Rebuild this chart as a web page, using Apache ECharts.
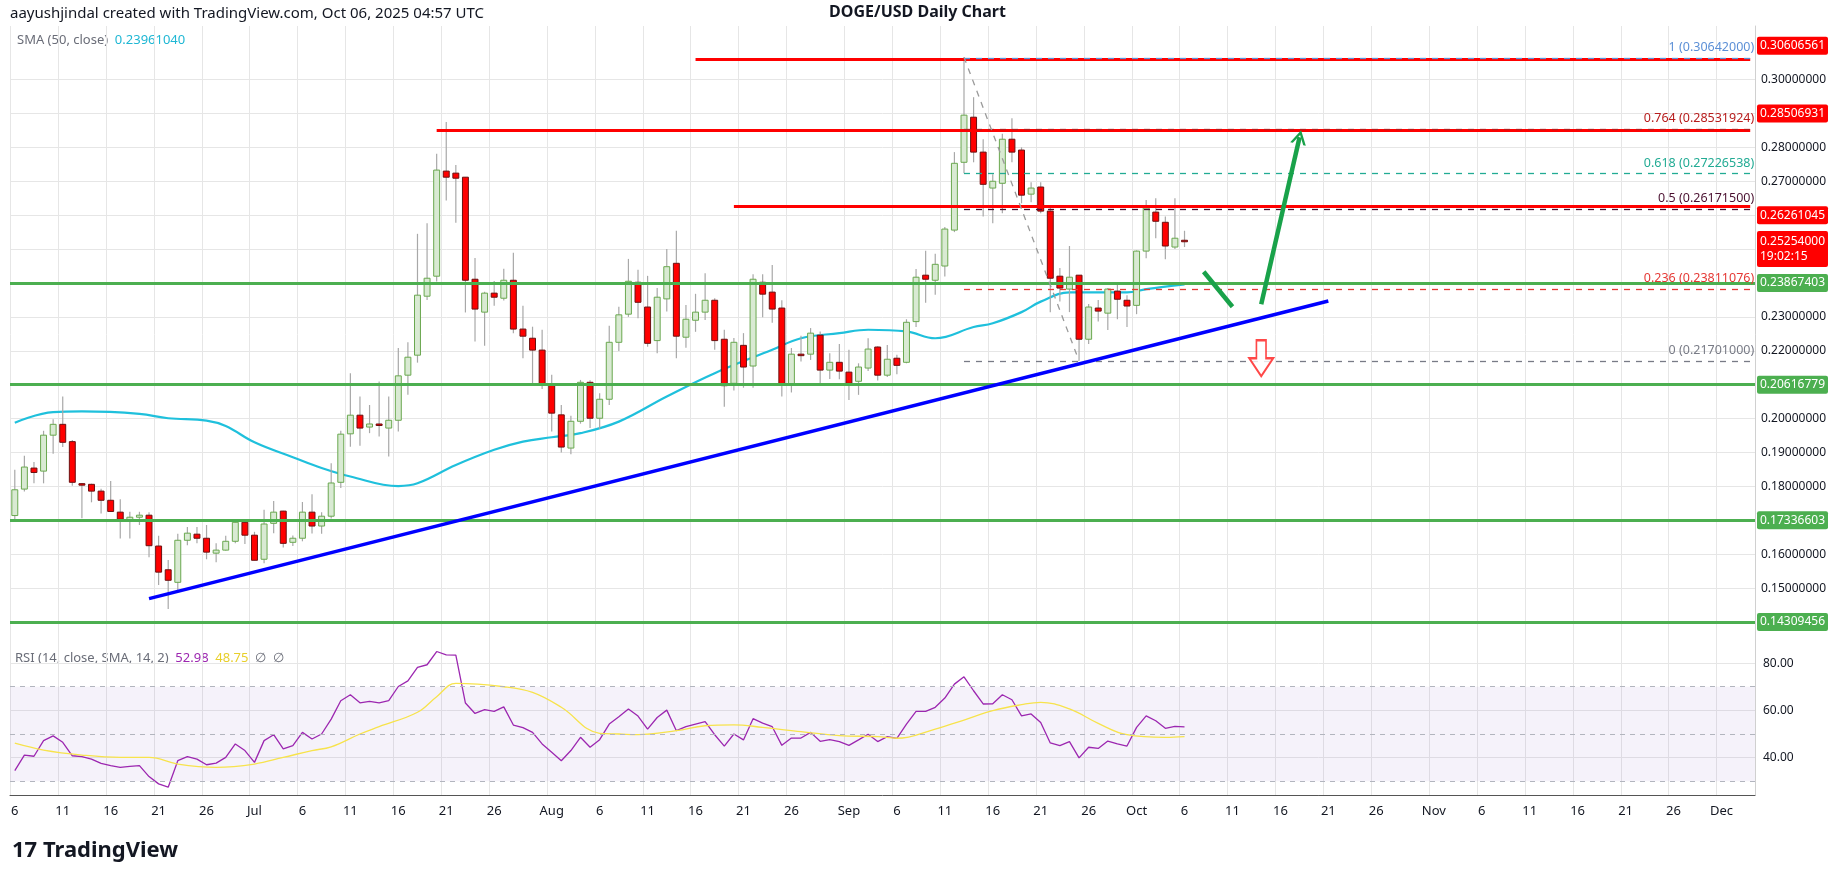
<!DOCTYPE html>
<html><head><meta charset="utf-8">
<script src="https://cdn.jsdelivr.net/npm/echarts@6/dist/echarts.min.js"></script>
<style>html,body{margin:0;padding:0;background:#fff}#c{width:1835px;height:883px}</style>
</head><body><div id="c"></div>
<script>
// ---- data ----
const openV=[.1714,.1792,.1854,.1845,.1951,.1983,.1932,.1808,.1806,.1786,.1759,.1724,.1697,.1709,.1715,.1624,.1554,.1517,.1641,.1659,.1647,.1603,.1612,.1638,.1694,.1656,.1585,.1691,.1727,.1635,.1647,.1724,.1683,.1712,.1812,.1955,.2010,.1975,.1984,.1972,.1995,.2128,.2187,.2361,.2420,.2730,.2724,.2712,.2411,.2314,.2370,.2355,.2408,.2264,.2237,.2202,.2100,.2011,.1913,.1992,.2107,.2001,.2057,.2225,.2308,.2402,.2329,.2230,.2353,.2458,.2240,.2290,.2314,.2349,.2234,.2104,.2216,.2155,.2402,.2373,.2326,.2101,.2190,.2190,.2246,.2143,.2166,.2137,.2110,.2149,.2211,.2128,.2178,.2166,.2286,.2423,.2408,.2450,.2556,.2756,.2889,.2786,.2680,.2694,.2824,.2792,.2662,.2683,.2612,.2420,.2382,.2423,.2234,.2326,.2311,.2376,.2349,.2334,.2494,.2609,.2579,.2506,.2526];
const highV=[.1849,.1890,.1872,.1964,.1998,.2065,.1937,.1810,.1808,.1793,.1816,.1762,.1725,.1725,.1724,.1654,.1583,.1660,.1680,.1680,.1686,.1632,.1654,.1703,.1702,.1666,.1731,.1757,.1728,.1655,.1754,.1777,.1724,.1868,.1964,.2134,.2065,.2040,.2109,.2065,.2208,.2225,.2545,.2576,.2781,.2875,.2748,.2712,.2474,.2374,.2406,.2442,.2489,.2333,.2271,.2262,.2129,.2040,.2008,.2114,.2113,.2075,.2274,.2330,.2471,.2439,.2421,.2385,.2500,.2554,.2335,.2368,.2429,.2355,.2262,.2238,.2252,.2426,.2426,.2453,.2349,.2208,.2244,.2267,.2257,.2193,.2220,.2203,.2163,.2237,.2213,.2217,.2188,.2293,.2441,.2495,.2486,.2565,.2786,.3066,.2948,.2824,.2721,.2840,.2886,.2800,.2697,.2697,.2625,.2444,.2509,.2423,.2338,.2350,.2385,.2396,.2364,.2496,.2645,.2650,.2596,.2650,.2554];
const lowV=[.1699,.1785,.1809,.1809,.1896,.1916,.1802,.1706,.1753,.1720,.1726,.1646,.1646,.1686,.1591,.1509,.1438,.1494,.1626,.1632,.1585,.1576,.1610,.1632,.1630,.1582,.1573,.1662,.1620,.1624,.1638,.1661,.1660,.1705,.1795,.1917,.1920,.1957,.1947,.1888,.1962,.2070,.2165,.2350,.2404,.2643,.2578,.2313,.2227,.2215,.2333,.2348,.2252,.2178,.2098,.2087,.1962,.1900,.1895,.1985,.1972,.1970,.2040,.2199,.2300,.2296,.2212,.2193,.2316,.2178,.2209,.2256,.2291,.2203,.2035,.2083,.2091,.2091,.2299,.2283,.2065,.2077,.2168,.2173,.2105,.2117,.2116,.2055,.2070,.2140,.2112,.2123,.2131,.2163,.2270,.2342,.2365,.2419,.2550,.2724,.2756,.2596,.2576,.2606,.2756,.2635,.2638,.2606,.2314,.2345,.2314,.2173,.2220,.2286,.2261,.2293,.2270,.2308,.2473,.2532,.2470,.2500,.2506];
const closeV=[.1790,.1857,.1841,.1951,.1983,.1930,.1812,.1806,.1786,.1759,.1726,.1703,.1709,.1715,.1625,.1547,.1523,.1641,.1662,.1647,.1606,.1612,.1638,.1694,.1656,.1582,.1689,.1724,.1632,.1647,.1724,.1683,.1712,.1810,.1954,.2010,.1972,.1984,.1980,.1995,.2126,.2181,.2364,.2414,.2733,.2712,.2709,.2408,.2323,.2370,.2358,.2408,.2264,.2243,.2202,.2101,.2016,.1916,.1992,.2107,.2001,.2057,.2225,.2306,.2405,.2343,.2222,.2358,.2448,.2243,.2293,.2314,.2349,.2230,.2097,.2225,.2152,.2411,.2367,.2323,.2101,.2190,.2188,.2252,.2143,.2166,.2140,.2104,.2152,.2205,.2128,.2175,.2157,.2284,.2417,.2411,.2455,.2559,.2753,.2895,.2786,.2691,.2700,.2824,.2786,.2659,.2680,.2612,.2414,.2385,.2417,.2234,.2329,.2317,.2382,.2352,.2332,.2494,.2621,.2582,.2509,.2532,.2525];
const smaPts=[[0,.1988],[4,.2019],[7,.2021],[13,.2014],[16,.2001],[20,.1994],[22,.1978],[25,.1930],[29,.1886],[32,.1854],[35,.1829],[40,.1801],[42,.1809],[46,.1863],[50,.1908],[53,.1932],[56,.1945],[59,.1957],[63,.1991],[68,.2065],[73,.2134],[79,.2203],[82,.2237],[86,.2252],[89,.2262],[93,.2257],[96,.2237],[100,.2270],[102,.2281],[105,.2314],[107,.2345],[110,.2372],[116,.2372],[118,.2382],[122,.2396]];
const rsiV=[34.5,41.1,40.6,47.2,49.2,46.5,40.8,40.4,39.4,37.6,36.6,35.9,36.3,36.6,32.0,28.9,27.5,38.7,40.4,39.4,37.0,37.7,40.1,45.8,43.0,38.0,47.2,49.7,43.7,45.1,50.7,47.9,50.0,56.3,64.1,66.6,63.2,63.8,63.2,64.1,70.1,72.5,78.2,79.3,84.9,83.5,83.4,63.1,58.7,60.3,59.6,61.5,53.8,52.7,50.7,45.8,42.3,38.7,43.0,48.6,44.4,47.6,54.2,57.3,60.6,57.6,52.1,57.0,60.1,51.4,53.1,54.2,55.2,49.7,44.9,50.0,47.5,56.5,54.6,53.1,45.2,48.3,48.3,50.7,46.9,47.6,46.8,45.2,47.5,49.9,46.8,48.9,48.2,54.2,59.6,59.6,61.3,65.2,71.1,74.2,68.3,62.7,62.8,66.6,64.5,57.7,58.5,54.9,46.2,45.1,46.8,39.9,44.4,43.9,47.0,45.8,44.9,52.8,57.7,55.6,52.4,53.2,53.0];
const rsiSmaPts=[[0,46.1],[3,43.2],[7,41.1],[11,40.1],[14,40.1],[17,37.3],[21,35.9],[25,37.3],[28,40.1],[31,43.0],[33,44.6],[36,50],[38,53.1],[42,59.2],[44,65.8],[46,71.4],[51,70],[54,67.6],[57,61.3],[61,50.3],[63,50],[65,49.7],[69,51.4],[72,53.5],[75,53.9],[78,52.8],[82,51.0],[86,49.3],[90,48.9],[92,48.2],[96,52.1],[99,55.9],[102,59.9],[105,62.4],[107,63.4],[110,60.6],[113,54.5],[116,49.7],[120,48.6],[122,48.9]];
const priceTicks=[.14,.15,.16,.17,.18,.19,.20,.21,.22,.23,.24,.25,.26,.27,.28,.29,.30];
const greenLevels=[.23867403,.20616779,.17336603,.14309456];
const fibLevels=[{r:'1',v:.30642,c:'#5b8fd6'},{r:'0.764',v:.28531924,c:'#b71c1c'},{r:'0.618',v:.27226538,c:'#22ab94'},{r:'0.5',v:.261715,c:'#4a1030'},{r:'0.236',v:.23811076,c:'#e53935'},{r:'0',v:.21701,c:'#787b86'}];
const redLines=[{s:71,v:.30606},{s:44,v:.28506931},{s:75,v:.26261045}];
const trend=[[14,.1469],[137,.2347]];
const lastPrice=.25254;

// categories (dates)
const MON=['Jan','Feb','Mar','Apr','May','Jun','Jul','Aug','Sep','Oct','Nov','Dec'];
const cats=[];const start=new Date(Date.UTC(2025,5,6));
for(let i=0;i<182;i++){const d=new Date(start.getTime()+i*86400000);cats.push(d.getUTCDate()===1?MON[d.getUTCMonth()]:String(d.getUTCDate()));}
const showIdx=(i)=>{const s=cats[i];return ['6','11','16','21','26'].includes(s)||isNaN(+s);};
const candles=openV.map((o,i)=>[i,o,closeV[i],lowV[i],highV[i]]);
const N=cats.length-1;
const F='"Noto Sans", Roboto, sans-serif';

const chart=echarts.init(document.getElementById('c'));
const tag=(v,col,txt)=>({yAxis:v,label:{show:true,position:'end',distance:2,formatter:txt||v.toFixed(8),backgroundColor:col,color:'#fff',padding:[3,3],fontSize:12,fontFamily:F,borderRadius:2}});
chart.setOption({
 animation:false,
 grid:[{left:10,right:80,top:26,height:617},{left:10,right:80,top:643,height:152}],
 xAxis:[
  {type:'category',data:cats,gridIndex:0,boundaryGap:true,axisLine:{show:false},axisTick:{show:false},axisLabel:{show:false},splitLine:{show:true,interval:(i)=>showIdx(i),lineStyle:{color:'#e6e6e6'}}},
  {type:'category',data:cats,gridIndex:1,boundaryGap:true,axisLine:{show:true,lineStyle:{color:'#555'}},axisTick:{show:false},splitLine:{show:true,interval:(i)=>showIdx(i),lineStyle:{color:'#e6e6e6'}},axisLabel:{interval:(i)=>showIdx(i),color:'#131722',fontSize:13,fontFamily:F,margin:10}}
 ],
 yAxis:[
  {type:'value',gridIndex:0,position:'right',min:0.1338,max:0.3158,axisLine:{show:true,lineStyle:{color:'#d0d0d0'}},axisTick:{show:false,customValues:priceTicks},axisLabel:{customValues:priceTicks,formatter:v=>v.toFixed(8),color:'#131722',fontSize:12,fontFamily:F,margin:6},splitLine:{show:true,lineStyle:{color:'#e6e6e6'}}},
  {type:'value',gridIndex:1,position:'right',min:24.2,max:88.5,axisLine:{show:true,lineStyle:{color:'#d0d0d0'}},axisTick:{show:false,customValues:[40,60,80]},axisLabel:{customValues:[40,60,80],formatter:v=>v.toFixed(2),color:'#131722',fontSize:12,fontFamily:F,margin:8},splitLine:{show:true,lineStyle:{color:'#e6e6e6'}}}
 ],
 series:[
  {type:'line',xAxisIndex:0,yAxisIndex:0,data:[],silent:true,
   markLine:{symbol:'none',silent:true,lineStyle:{type:'solid',color:'#4caf50',width:3},label:{show:false},
    data:greenLevels.map(v=>tag(v,'#4caf50'))}},
  {type:'line',xAxisIndex:0,yAxisIndex:0,data:[],silent:true,
   markLine:{symbol:'none',silent:true,
    data:[...redLines.map(r=>[{coord:[r.s,r.v],lineStyle:{color:'#ff0000',width:3,type:'solid'},label:{show:false}},{coord:[N,r.v]}]),
      ...fibLevels.map(f=>[{coord:[99,f.v],lineStyle:{color:f.c,width:1.3,type:[6,6]},label:{show:true,position:'insideEndTop',formatter:f.r+' ('+f.v.toFixed(8)+')',color:f.c,fontSize:12.5,fontFamily:F,distance:[ -4,4]}},{coord:[N,f.v]}]),
      [{coord:[99,.3066],lineStyle:{color:'#9a9a9a',width:1.3,type:[6,6]},label:{show:false}},{coord:[111,.2170]}]
    ]}},
  {type:'line',xAxisIndex:0,yAxisIndex:0,data:[],silent:true,
   markLine:{symbol:'none',silent:true,lineStyle:{color:'rgba(0,0,0,0)',width:0},
    data:[tag(.30606,'#ff0000','0.30606561'),tag(.28506931,'#ff0000'),tag(.26261045,'#ff0000'),{yAxis:lastPrice,label:{show:true,position:'end',distance:2,formatter:'0.25254000\n19:02:15',backgroundColor:'#ff0000',color:'#fff',padding:[3,3],fontSize:12,lineHeight:15,fontFamily:F,borderRadius:2}}]},z:8},
  {type:'line',xAxisIndex:0,yAxisIndex:0,data:smaPts,smooth:0.4,symbol:'none',lineStyle:{color:'#1fc0dc',width:2.2},z:3},
  {type:'custom',xAxisIndex:0,yAxisIndex:0,data:candles,z:4,
   renderItem:(p,api)=>{const i=api.value(0),o=api.value(1),c=api.value(2),l=api.value(3),h=api.value(4);
    const po=api.coord([i,o]),pc=api.coord([i,c]),pl=api.coord([i,l]),ph=api.coord([i,h]);
    const w=api.size([1,0])[0]*0.62;const up=c>=o;const top=Math.min(po[1],pc[1]),bh=Math.max(Math.abs(po[1]-pc[1]),1.5);
    return {type:'group',children:[
     {type:'line',shape:{x1:po[0],y1:ph[1],x2:po[0],y2:pl[1]},style:{stroke:'#a8a8a8',lineWidth:1.2}},
     {type:'rect',shape:{x:po[0]-w/2,y:top,width:w,height:bh},style:{fill:up?'#d9ead3':'#ff0000',stroke:up?'#6aa84f':'#6b1010',lineWidth:1}}]};}},
  {type:'line',xAxisIndex:0,yAxisIndex:0,data:trend,symbol:'none',lineStyle:{color:'#0000ff',width:3.5},z:5},
  {type:'line',xAxisIndex:0,yAxisIndex:0,data:[],silent:true,
   markLine:{silent:true,symbol:['none','path://M0,12 L6,0 L12,12 L10,12 L6,4 L2,12 Z'],symbolSize:[16,14],lineStyle:{color:'#19a24a',width:4.5,type:'solid'},label:{show:false},
    data:[[{coord:[124,.2433],symbol:'none'},{coord:[127,.2330],symbol:'none'}],[{coord:[130,.2337]},{coord:[134,.2830]}]]}},
  {type:'scatter',xAxisIndex:0,yAxisIndex:0,data:[[130,.2178]],symbol:'path://M3,0 L7,0 L7,6 L10,6 L5,12 L0,6 L3,6 Z',symbolSize:[24,36],itemStyle:{color:'#fff',borderColor:'#ff1a1a',borderWidth:2},z:6},
  {type:'line',xAxisIndex:1,yAxisIndex:1,data:rsiV,symbol:'none',lineStyle:{color:'#9c27b0',width:1.3},
   markArea:{silent:true,itemStyle:{color:'rgba(126,87,194,0.08)'},data:[[{yAxis:30},{yAxis:70}]]},
   markLine:{silent:true,symbol:'none',label:{show:false},lineStyle:{color:'#b2b5be',type:[5,5],width:1},data:[{yAxis:30},{yAxis:50},{yAxis:70}]}},
  {type:'line',xAxisIndex:1,yAxisIndex:1,data:rsiSmaPts,smooth:0.4,symbol:'none',lineStyle:{color:'#f7e34c',width:1.3}}
 ],
 graphic:[
  {type:'text',left:10,top:6,style:{text:'aayushjindal created with TradingView.com, Oct 06, 2025 04:57 UTC',fill:'#131722',font:'15px '+F}},
  {type:'text',left:'center',top:4,style:{text:'DOGE/USD Daily Chart',fill:'#131722',font:'bold 16px '+F,x:90}},
  {type:'text',left:1790,top:37,style:{text:'USD',fill:'#131722',font:'12px '+F}},
  {type:'text',left:17,top:34,style:{rich:{a:{fill:'#6a6d78',font:'13px '+F},b:{fill:'#1fb7d4',font:'13px '+F}},text:'{a|SMA (50, close)}  {b|0.23961040}'}},
  {type:'text',left:15,top:652,style:{rich:{a:{fill:'#6a6d78',font:'13px '+F},b:{fill:'#9c27b0',font:'13px '+F},c:{fill:'#e8cf2a',font:'13px '+F}},text:'{a|RSI (14, close, SMA, 14, 2)}  {b|52.98}  {c|48.75}  {a|∅  ∅}'}},
  {type:'text',left:12,top:840,style:{text:'17 TradingView',fill:'#131722',font:'bold 22px '+F}}
 ]
});
</script></body></html>
